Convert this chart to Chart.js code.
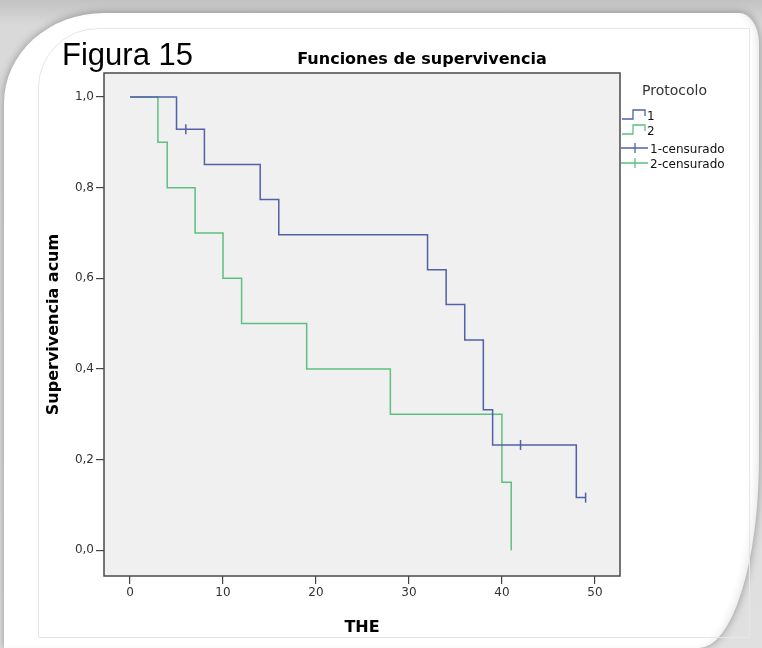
<!DOCTYPE html>
<html>
<head>
<meta charset="utf-8">
<script src="https://cdn.jsdelivr.net/npm/chart.js@4.4.1/dist/chart.umd.min.js"></script>
<style>
  html, body { margin: 0; padding: 0; }
  body {
    width: 762px; height: 648px; overflow: hidden; position: relative;
    background: linear-gradient(180deg, #c2c2c2 0px, #d9d9d9 25px, #e0e0e0 100%);
  }
  #card {
    position: absolute; left: 4px; top: 13px; width: 755px; height: 635px;
    background: #fff;
    border-top-left-radius: 100px 90px;
    border-top-right-radius: 20px 30px;
    border-bottom-right-radius: 60px 190px;
    box-shadow: 0 0 9px rgba(0,0,0,0.35), inset -6px 0 8px -4px rgba(0,0,0,0.10);
  }
  #pic {
    position: absolute; left: 38px; top: 28px; width: 710px; height: 608px;
    border: 1px solid #e6e6e6; border-top-left-radius: 60px;
  }
  #wrap { position: absolute; left: 0; top: 0; width: 762px; height: 648px; }
</style>
</head>
<body>
<div id="card"></div>
<div id="pic"></div>
<div id="wrap"><canvas id="kmChart" width="762" height="648"></canvas></div>
<script>
// Kaplan-Meier steps
const blueTimes = [0, 5, 8, 14, 16, 32, 34, 36, 38, 39, 48, 49];
const blueSurv  = [1, 0.929, 0.851, 0.774, 0.696, 0.619, 0.542, 0.464, 0.310, 0.232, 0.116, 0.116];
const blueCensTimes = [6, 42, 49];
const blueCensSurv  = [0.929, 0.232, 0.116];
const greenTimes = [0, 3, 4, 7, 10, 12, 19, 28, 40, 41];
const greenSurv  = [1, 0.9, 0.8, 0.7, 0.6, 0.5, 0.4, 0.3, 0.15, 0];
const greenCensTimes = [];
const greenCensSurv  = [];
const xTicks = [0, 10, 20, 30, 40, 50];
const yTicks = [0, 0.2, 0.4, 0.6, 0.8, 1.0];
const groupLabels = ['1', '2', '1-censurado', '2-censurado'];

const BLUE = '#5260a6';
const GREEN = '#5ec080';

function pts(xs, ys) {
    return xs.map(function(x, i) { return { x: x, y: ys[i] }; });
}

Chart.defaults.font.family = '"DejaVu Sans", sans-serif';

var extras = {
    id: 'extras',
    beforeDraw: function(chart) {
        var ctx = chart.ctx, a = chart.chartArea;
        ctx.save();
        ctx.fillStyle = '#f0f0f0';
        ctx.fillRect(a.left, a.top, a.right - a.left, a.bottom - a.top);
        ctx.strokeStyle = '#4a4a4a';
        ctx.lineWidth = 1.5;
        ctx.strokeRect(a.left, a.top, a.right - a.left, a.bottom - a.top);
        ctx.restore();
    },
    afterDraw: function(chart) {
        var ctx = chart.ctx;
        ctx.save();
        ctx.textBaseline = 'alphabetic';
        // caption and title
        ctx.fillStyle = '#000';
        ctx.font = '31px "Liberation Sans", Arial, sans-serif';
        ctx.textAlign = 'left';
        ctx.fillText('Figura 15', 62, 65);
        ctx.font = 'bold 16px "DejaVu Sans", sans-serif';
        ctx.textAlign = 'center';
        ctx.fillText('Funciones de supervivencia', 422, 64);

        // legend
        ctx.textAlign = 'left';
        ctx.fillStyle = '#333';
        ctx.font = '14px "DejaVu Sans", sans-serif';
        ctx.fillText('Protocolo', 642, 95);
        ctx.font = '12px "DejaVu Sans", sans-serif';
        var rows = [115, 130, 148, 163];
        var cols = [BLUE, GREEN, BLUE, GREEN];
        ctx.lineWidth = 1.3;
        for (var i = 0; i < groupLabels.length; i++) {
            var y = rows[i];
            ctx.strokeStyle = cols[i];
            ctx.beginPath();
            if (i < 2) {
                ctx.moveTo(622, y + 4);
                ctx.lineTo(633, y + 4);
                ctx.lineTo(633, y - 5);
                ctx.lineTo(645, y - 5);
                ctx.lineTo(645, y + 1);
            } else {
                ctx.moveTo(621, y);
                ctx.lineTo(648, y);
                ctx.moveTo(635, y - 5);
                ctx.lineTo(635, y + 5);
            }
            ctx.stroke();
            ctx.fillStyle = '#111';
            ctx.fillText(groupLabels[i], i < 2 ? 647 : 650, y + 5);
        }
        ctx.restore();
    }
};

var ctx = document.getElementById('kmChart').getContext('2d');
var chart = new Chart(ctx, {
    type: 'line',
    data: {
        datasets: [{
            label: groupLabels[0],
            data: pts(blueTimes, blueSurv),
            borderColor: BLUE,
            borderWidth: 1.5,
            stepped: true,
            pointRadius: 0,
            fill: false
        }, {
            label: groupLabels[1],
            data: pts(greenTimes, greenSurv),
            borderColor: GREEN,
            borderWidth: 1.5,
            stepped: true,
            pointRadius: 0,
            fill: false
        }, {
            type: 'scatter',
            label: groupLabels[2],
            data: pts(blueCensTimes, blueCensSurv),
            borderColor: BLUE,
            backgroundColor: BLUE,
            borderWidth: 1.5,
            pointStyle: 'line',
            rotation: 90,
            pointRadius: 5,
            showLine: false
        }, {
            type: 'scatter',
            label: groupLabels[3],
            data: pts(greenCensTimes, greenCensSurv),
            borderColor: GREEN,
            backgroundColor: GREEN,
            borderWidth: 1.5,
            pointStyle: 'line',
            rotation: 90,
            pointRadius: 5,
            showLine: false
        }]
    },
    options: {
        responsive: false,
        animation: false,
        layout: { padding: { left: 0, top: 73, right: 142, bottom: 0 } },
        plugins: {
            legend: { display: false },
            tooltip: { enabled: false },
            title: { display: false }
        },
        scales: {
            x: {
                type: 'linear',
                min: -2.8,
                max: 52.7,
                afterBuildTicks: function(s) { s.ticks = xTicks.map(function(v) { return { value: v }; }); },
                afterFit: function(s) { s.height = 72; },
                grid: { drawOnChartArea: false, drawTicks: true, tickLength: 8, color: '#444', lineWidth: 1.2 },
                border: { display: false },
                ticks: {
                    padding: 2, color: '#333', font: { size: 12 }, maxRotation: 0, autoSkip: false,
                    callback: function(v) { return String(v); }
                },
                title: {
                    display: true, text: 'THE', color: '#000',
                    font: { size: 16, weight: 'bold' }, padding: { top: 0, bottom: 11 }
                }
            },
            y: {
                type: 'linear',
                min: -0.057,
                max: 1.053,
                afterBuildTicks: function(s) { s.ticks = yTicks.map(function(v) { return { value: v }; }); },
                afterFit: function(s) { s.width = 104; },
                grid: { drawOnChartArea: false, drawTicks: true, tickLength: 8, color: '#444', lineWidth: 1.2 },
                border: { display: false },
                ticks: {
                    padding: 2, color: '#333', font: { size: 12 }, autoSkip: false,
                    callback: function(v) { return v.toFixed(1).replace('.', ','); }
                },
                title: {
                    display: true, text: 'Supervivencia acum', color: '#000',
                    font: { size: 16, weight: 'bold' }, padding: { top: 44, bottom: 0 }
                }
            }
        }
    },
    plugins: [extras]
});
</script>
</body>
</html>
